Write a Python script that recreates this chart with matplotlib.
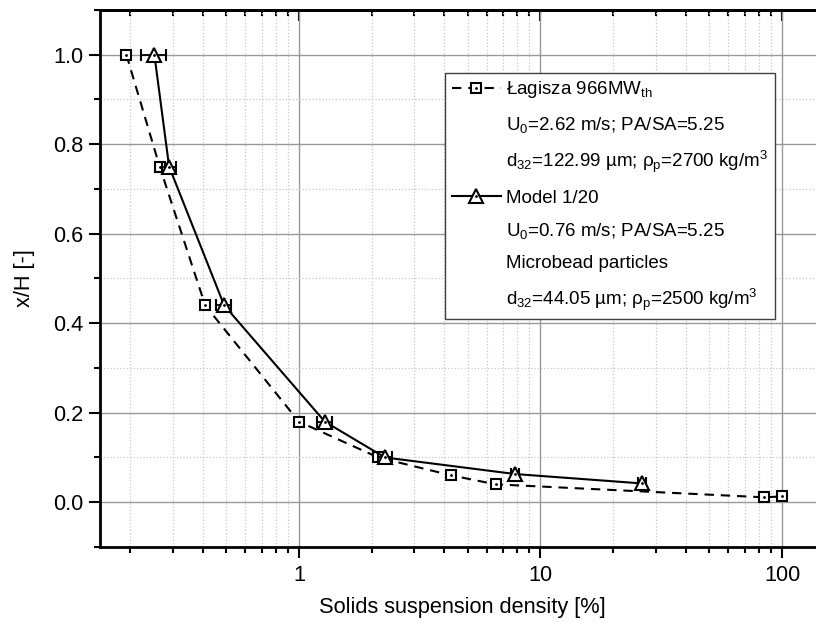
import matplotlib
matplotlib.use("Agg")
import matplotlib.pyplot as plt
from matplotlib.lines import Line2D
from matplotlib.ticker import FixedLocator, MultipleLocator, FuncFormatter, NullFormatter

plt.rcParams['font.family'] = ['Liberation Sans', 'DejaVu Sans']
plt.rcParams['mathtext.fontset'] = 'custom'
plt.rcParams['mathtext.rm'] = 'Liberation Sans'
plt.rcParams['mathtext.it'] = 'Liberation Sans:italic'

# Łagisza 966MWth (boiler)
lagisza_x = [0.193, 0.265, 0.409, 1.0, 2.13, 4.27, 6.52, 84.3, 99.7]
lagisza_y = [1.0, 0.75, 0.44, 0.18, 0.10, 0.06, 0.04, 0.011, 0.013]

# Model 1/20
model_x = [0.252, 0.290, 0.49, 1.28, 2.27, 7.86, 26.3]
model_y = [1.0, 0.75, 0.44, 0.18, 0.10, 0.063, 0.042]
model_xerr = [0.03, 0.02, 0.035, 0.09, 0.15, 0.3, 1.0]

y_ticks = [0.0, 0.2, 0.4, 0.6, 0.8, 1.0]

legend_labels = [
    'Łagisza 966MW$_{\\mathrm{th}}$',
    'U$_0$=2.62 m/s; PA/SA=5.25',
    'd$_{32}$=122.99 µm; ρ$_{\\mathrm{p}}$=2700 kg/m$^3$',
    'Model 1/20',
    'U$_0$=0.76 m/s; PA/SA=5.25',
    'Microbead particles',
    'd$_{32}$=44.05 µm; ρ$_{\\mathrm{p}}$=2500 kg/m$^3$',
]

dash = (0, (4.5, 3.3))

fig = plt.figure(figsize=(8.16, 6.23), dpi=100)
ax = fig.add_axes([0.1225, 0.122, 0.888, 0.862])
ax.set_xscale('log')
ax.set_xlim(0.15, 150)
ax.set_ylim(-0.1, 1.1)

# grid
ax.set_axisbelow(True)
ax.grid(which='major', color='#999999', lw=1.0)
ax.grid(which='minor', color='#c8c8c8', ls=':', lw=0.9)

# data
ax.plot(lagisza_x, lagisza_y, ls=dash, color='k', lw=1.5, marker='s', ms=7.5,
        mfc='white', mec='k', mew=1.5, zorder=3)
ax.plot(lagisza_x, lagisza_y, ls='none', marker='.', ms=2, color='k', zorder=4)

ax.errorbar(model_x, model_y, xerr=model_xerr, fmt='-^', color='k', lw=1.5, ms=9.5,
            mfc='white', mec='k', mew=1.5, ecolor='k', elinewidth=1.3,
            capsize=4, capthick=1.3, zorder=5)
ax.plot(model_x, model_y, ls='none', marker='.', ms=2, color='k', zorder=6)

# axes styling
for s in ['left', 'bottom', 'top']:
    ax.spines[s].set_linewidth(2)
ax.yaxis.set_major_locator(FixedLocator(y_ticks))
ax.yaxis.set_minor_locator(MultipleLocator(0.1))
ax.yaxis.set_major_formatter(FuncFormatter(lambda v, p: f'{v:.1f}'))
ax.xaxis.set_major_formatter(FuncFormatter(lambda v, p: f'{v:g}'))
ax.xaxis.set_minor_formatter(NullFormatter())
ax.tick_params(which='both', direction='out', width=1.5, top=False, right=False,
               labelsize=15.7)
ax.tick_params(which='major', length=8)
ax.tick_params(which='minor', length=4)
ax.tick_params(axis='x', pad=5)
ax.tick_params(axis='y', pad=4)

top = ax.secondary_xaxis('top')
top.tick_params(which='both', direction='in', width=1.5, labeltop=False)
top.tick_params(which='major', length=8)
top.tick_params(which='minor', length=4)
top.xaxis.set_major_formatter(NullFormatter())
top.xaxis.set_minor_formatter(NullFormatter())
top.spines['top'].set_linewidth(2)

ax.set_xlabel('Solids suspension density [%]', fontsize=15.7, labelpad=8)
ax.set_ylabel('x/H [-]', fontsize=15.7, labelpad=13)

# legend
h1 = (Line2D([], [], ls=dash, color='k', lw=1.5, marker='s', ms=7.5, mfc='white', mec='k', mew=1.5),
      Line2D([], [], ls='none', marker='.', ms=2, color='k'))
h2 = (Line2D([], [], ls='-', color='k', lw=1.5, marker='^', ms=9.5, mfc='white', mec='k', mew=1.5),
      Line2D([], [], ls='none', marker='.', ms=2, color='k'))
blank = Line2D([], [], ls='none')
handles = [h1, blank, blank, h2, blank, blank, blank]
leg = ax.legend(handles, legend_labels, loc='upper left', bbox_to_anchor=(0.4766, 0.883),
                borderaxespad=0, fontsize=13.5, frameon=True, fancybox=False,
                edgecolor='#404040', framealpha=1, handlelength=2.6, handletextpad=0.3,
                labelspacing=0.76, borderpad=0.35, numpoints=1)
leg.get_frame().set_linewidth(1.0)

fig.savefig('out.png', dpi=100)
